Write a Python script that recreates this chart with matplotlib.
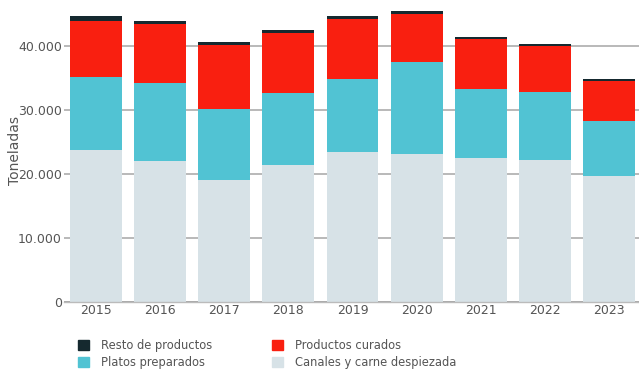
import matplotlib
matplotlib.use("Agg")
import matplotlib.pyplot as plt
from matplotlib.patches import Patch
import numpy as np

years = ["2015", "2016", "2017", "2018", "2019", "2020", "2021", "2022", "2023"]
canales = [23700, 22000, 19000, 21360, 23400, 23100, 22450, 22140, 19640]
platos = [11400, 12200, 11100, 11250, 11400, 14400, 10800, 10600, 8600]
curados = [8750, 9200, 10000, 9400, 9380, 7500, 7800, 7200, 6250]
resto = [830, 470, 470, 470, 470, 470, 310, 310, 310]

series_names = ["Canales y carne despiezada", "Platos preparados", "Productos curados", "Resto de productos"]
colors = ["#d7e2e7", "#51c3d3", "#f91f10", "#15292f"]
yticks = [0, 10000, 20000, 30000, 40000]
ytick_labels = ["0", "10.000", "20.000", "30.000", "40.000"]

plt.rcParams['font.family'] = ['DejaVu Sans']
W, H = 639, 372
fig = plt.figure(figsize=(W / 100, H / 100), dpi=100)
left, right, bottom, top = 64, 641, 301.7, 0
ax = fig.add_axes([left / W, 1 - bottom / H, (right - left) / W, (bottom - top) / H])

x = np.arange(len(years))
bottoms = np.zeros(len(years))
for vals, col, name in zip([canales, platos, curados, resto], colors, series_names):
    ax.bar(x, vals, width=0.81, bottom=bottoms, color=col, zorder=3, linewidth=0)
    bottoms += np.array(vals)

ax.set_xlim(-0.5, 8.5)
ax.set_ylim(0, 301.7 / 64 * 10000)
ax.set_yticks(yticks)
ax.set_yticklabels(ytick_labels)
ax.set_xticks(x)
ax.set_xticklabels(years)
ax.grid(axis='y', color='#b3b3b3', linewidth=1.3, zorder=0)
ax.axhline(0, color='#444444', linewidth=1.3, zorder=1)
for s in ['top', 'right', 'left']:
    ax.spines[s].set_visible(False)
ax.spines['bottom'].set_color('#bbbbbb')
ax.spines['bottom'].set_linewidth(1.0)
ax.spines['bottom'].set_zorder(4)
ax.tick_params(axis='y', length=0, labelcolor='#555555', labelsize=9, pad=1.5)
ax.tick_params(axis='x', length=0, labelcolor='#555555', labelsize=9, pad=2)
ax.set_ylabel("Toneladas", color='#555555', fontsize=10, va='center')
ax.yaxis.set_label_coords((15 - left) / (right - left), 0.5)

handles = [Patch(color=colors[3]), Patch(color=colors[1]), Patch(color=colors[2]), Patch(color=colors[0])]
labels = ["Resto de productos", "Platos preparados", "Productos curados", "Canales y carne despiezada"]
fig.legend(handles, labels, ncol=2, loc='upper left', bbox_to_anchor=(73 / W, 1 - 334 / H),
           frameon=False, fontsize=8.3, labelcolor='#555555', handlelength=1.0, handleheight=1.0,
           handletextpad=1.0, columnspacing=5.2, labelspacing=0.4, borderaxespad=0)

fig.savefig("out.png", dpi=100)
